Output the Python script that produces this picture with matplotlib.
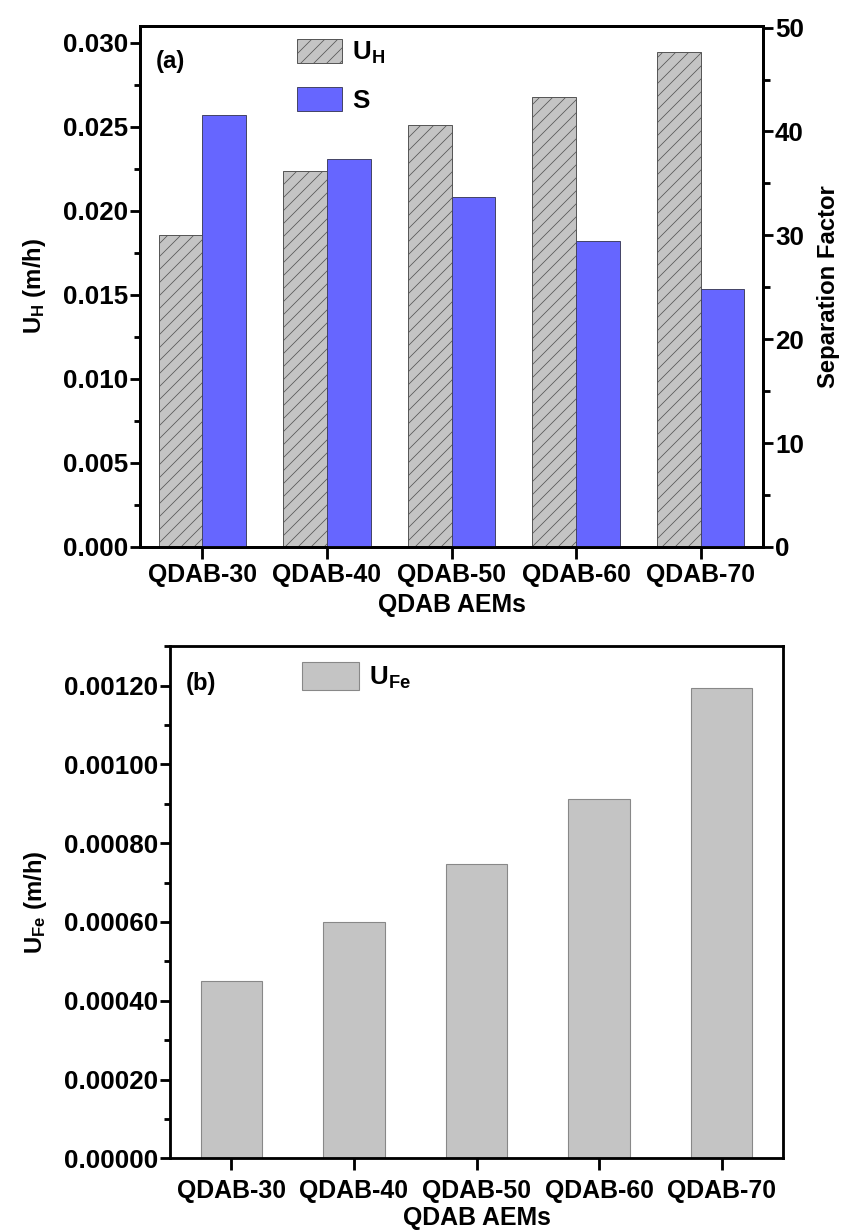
import matplotlib

matplotlib.use("Agg")
import matplotlib.pyplot as plt
from matplotlib import font_manager
from matplotlib.ticker import MultipleLocator, FormatStrFormatter
import numpy as np

membranes = ["QDAB-30", "QDAB-40", "QDAB-50", "QDAB-60", "QDAB-70"]
u_h = [0.01857, 0.02238, 0.02512, 0.02680, 0.02945]      # m/h, left axis
sep_factor = [41.6, 37.3, 33.7, 29.5, 24.8]               # right axis
u_fe = [0.000449, 0.000601, 0.000747, 0.000912, 0.001194]  # m/h

DPI = 78
plt.rcParams["font.family"] = ["Liberation Sans", "DejaVu Sans"]
plt.rcParams["font.weight"] = "bold"
plt.rcParams["axes.labelweight"] = "bold"
plt.rcParams["mathtext.fontset"] = "custom"
plt.rcParams["mathtext.rm"] = "Liberation Sans:bold"
plt.rcParams["mathtext.bf"] = "Liberation Sans:bold"
plt.rcParams["mathtext.it"] = "Liberation Sans:bold"
plt.rcParams["hatch.linewidth"] = 0.7

names = {f.name for f in font_manager.fontManager.ttflist}
if "Liberation Sans Narrow" in names:
    NARROW = ["Liberation Sans Narrow", "Liberation Sans"]
    XT_SIZE, XL_SIZE = 28, 26
else:
    NARROW = ["Liberation Sans", "DejaVu Sans"]
    XT_SIZE, XL_SIZE = 23, 23

GRAY = "#C4C4C4"
BLUE = "#6666FF"
SPINE_W = 2.6


def style_axes(ax, xpad):
    for sp in ax.spines.values():
        sp.set_linewidth(SPINE_W)
    ax.tick_params(which="major", direction="out", length=9, width=SPINE_W, pad=2)
    ax.tick_params(which="minor", direction="out", length=6, width=SPINE_W)
    ax.tick_params(axis="y", labelsize=24)
    ax.tick_params(axis="x", which="major", length=11, pad=xpad)
    ax.tick_params(axis="x", which="minor", bottom=False, top=False)
    for lab in ax.get_xticklabels():
        lab.set_fontfamily(NARROW)
        lab.set_fontsize(XT_SIZE)


fig = plt.figure(figsize=(841 / DPI, 1231 / DPI), dpi=DPI)
fig.patch.set_facecolor("white")

# ---- (a) U_H and separation factor ----
ax1 = fig.add_axes([140 / 841, 1 - 547 / 1231, 623 / 841, 521 / 1231])
ax2 = ax1.twinx()
x = np.arange(len(membranes))
w = 0.35
b1 = ax1.bar(x - w / 2, u_h, w, color=GRAY, edgecolor="#555555", linewidth=0.9,
             hatch="//", label=r"$\mathbf{U_H}$", zorder=2)
b2 = ax2.bar(x + w / 2, sep_factor, w, color=BLUE, edgecolor="#444466", linewidth=0.9,
             label="S", zorder=2)

ax1.set_xlim(-0.5, 4.5)
ax1.set_ylim(0, 0.031)
ax2.set_ylim(0, 50.15)
ax1.set_xticks(x)
ax1.set_xticklabels(membranes)
ax1.yaxis.set_major_locator(MultipleLocator(0.005))
ax1.yaxis.set_minor_locator(MultipleLocator(0.0025))
ax1.yaxis.set_major_formatter(FormatStrFormatter("%.3f"))
ax2.yaxis.set_major_locator(MultipleLocator(10))
ax2.yaxis.set_minor_locator(MultipleLocator(5))
style_axes(ax1, 4)
style_axes(ax2, 4)
ax1.tick_params(axis="x", top=False)
ax1.set_xlabel("QDAB AEMs", fontfamily=NARROW, fontsize=XL_SIZE, labelpad=5)
ax1.set_ylabel(r"$\mathbf{U_H}$ (m/h)", fontsize=22, labelpad=14)
ax2.set_ylabel("Separation Factor", fontsize=22, labelpad=12)
ax1.text(0.025, 0.954, "(a)", transform=ax1.transAxes, fontsize=22,
         ha="left", va="top")
ax1.legend(handles=[b1, b2], loc="upper left", bbox_to_anchor=(0.222, 1.01),
           frameon=False, fontsize=24, handlelength=1.75, handleheight=1.05,
           labelspacing=0.8, handletextpad=0.4, borderaxespad=0.3)

# ---- (b) U_Fe ----
ax3 = fig.add_axes([170 / 841, 1 - 1158.3 / 1231, 613 / 841, 512 / 1231])
b3 = ax3.bar(x, u_fe, 0.5, color=GRAY, edgecolor="#888888", linewidth=1.0,
             label=r"$\mathbf{U_{Fe}}$", zorder=2)
ax3.set_xlim(-0.5, 4.5)
ax3.set_ylim(0, 0.0013)
ax3.set_xticks(x)
ax3.set_xticklabels(membranes)
ax3.yaxis.set_major_locator(MultipleLocator(0.0002))
ax3.yaxis.set_minor_locator(MultipleLocator(0.0001))
ax3.yaxis.set_major_formatter(FormatStrFormatter("%.5f"))
style_axes(ax3, 8)
ax3.set_xlabel("QDAB AEMs", fontfamily=NARROW, fontsize=XL_SIZE, labelpad=3)
ax3.set_ylabel(r"$\mathbf{U_{Fe}}$ (m/h)", fontsize=22, labelpad=14)
ax3.text(0.025, 0.95, "(b)", transform=ax3.transAxes, fontsize=22,
         ha="left", va="top")
ax3.legend(handles=[b3], loc="upper left", bbox_to_anchor=(0.186, 1.005),
           frameon=False, fontsize=24, handlelength=2.2, handleheight=1.3,
           handletextpad=0.35, borderaxespad=0.3)

fig.savefig("out.png", dpi=DPI, facecolor="white")
